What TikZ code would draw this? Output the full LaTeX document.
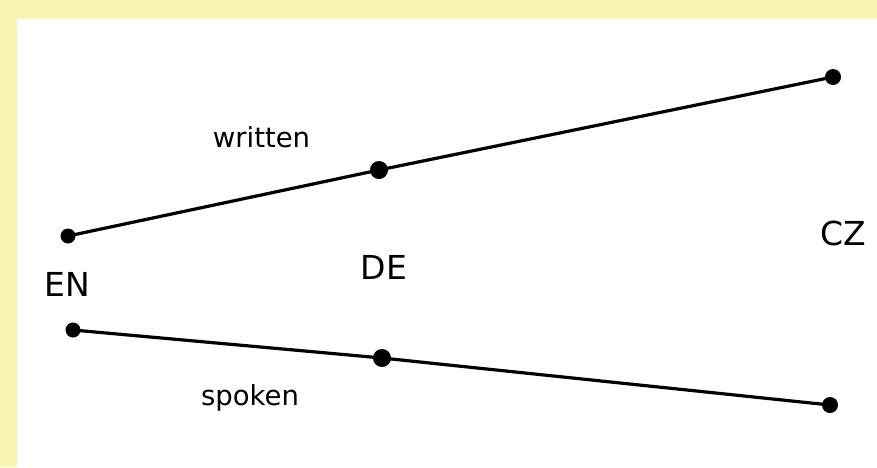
\documentclass[tikz,border=0pt]{standalone}
\usepackage{fontspec}
\setmainfont{DejaVu Sans}
\definecolor{bgyellow}{HTML}{F8F6B0}
\begin{document}
\begin{tikzpicture}[x=1pt,y=-1pt,
  dot/.style={circle,fill=black,inner sep=0pt,minimum size=#1},
  dot/.default=15pt,
  edge/.style={line width=3.2pt},
  lbl/.style={inner sep=0pt,anchor=base,font=\fontsize{27.5}{30}\selectfont},
  lang/.style={inner sep=0pt,anchor=base,font=\fontsize{33}{36}\selectfont}]
\useasboundingbox (0,0) rectangle (877,467);
\fill[bgyellow] (0,0) rectangle (877,467);
\fill[white] (17,19) rectangle (877,467);
% written line
\node[dot=15pt] (enw) at (68,236) {};
\node[dot=18pt] (dew) at (379,170) {};
\node[dot=16pt] (czw) at (833,77) {};
% spoken line
\node[dot=15pt] (ens) at (73,330) {};
\node[dot=18pt] (des) at (382,358) {};
\node[dot=16pt] (czs) at (830,405) {};
\draw[edge] (enw.center) -- (dew.center) -- (czw.center);
\draw[edge] (ens.center) -- (des.center) -- (czs.center);
% labels
\node[lbl] (written) at (261.5,147) {written};
\node[lbl] (spoken) at (250,405) {spoken};
\node[lang] (en) at (67,296) {EN};
\node[lang] (de) at (384,279) {DE};
\node[lang] (cz) at (843,245) {CZ};
\end{tikzpicture}
\end{document}
